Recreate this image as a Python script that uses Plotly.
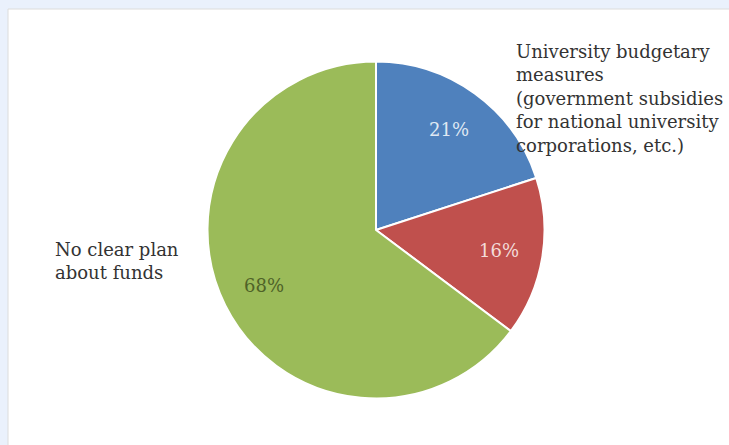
import math
import plotly.graph_objects as go

# Sources of funds for the plan (share of respondents, %)
categories = [
    "University budgetary measures (government subsidies for national university corporations, etc.)",
    "Other",
    "No clear plan about funds",
]
values = [21, 16, 68]
slice_colors = ["#4f81bd", "#c0504d", "#9bbb59"]
pct_colors = ["#dfe8f3", "#f3dcda", "#4f6228"]

SERIF = "DejaVu Serif"
W, H = 729, 445

# Pie geometry in pixels (centre and radius)
CX, CY, R = 376, 230, 168.5
LABEL_RADIUS = 0.74  # fraction of radius where the % labels sit

fig = go.Figure(
    go.Pie(
        labels=categories,
        values=values,
        sort=False,
        direction="clockwise",
        rotation=0,
        marker=dict(colors=slice_colors, line=dict(color="white", width=2)),
        textinfo="none",
        hoverinfo="label+value",
        showlegend=False,
        domain=dict(x=[(CX - R) / W, (CX + R) / W],
                    y=[(H - CY - R) / H, (H - CY + R) / H]),
    )
)

# Percentage labels placed on each slice's bisector
total = sum(values)
cum = 0
for v, col in zip(values, pct_colors):
    mid = (cum + v / 2) / total * 2 * math.pi
    cum += v
    px = CX + LABEL_RADIUS * R * math.sin(mid)
    py = CY - LABEL_RADIUS * R * math.cos(mid)
    fig.add_annotation(
        x=px / W, y=1 - py / H, xref="paper", yref="paper",
        xanchor="center", yanchor="middle", showarrow=False,
        text=f"{v}%", font=dict(family=SERIF, size=18, color=col),
    )

# White chart panel on the pale blue page
fig.add_shape(
    type="rect", xref="paper", yref="paper",
    x0=8 / W, x1=1.02, y0=-0.02, y1=1 - 9 / H,
    fillcolor="white", line=dict(color="#dcdcdc", width=1), layer="below",
)

fig.add_annotation(
    x=514 / W, y=1 - 38.5 / H, xref="paper", yref="paper",
    xanchor="left", yanchor="top", align="left", showarrow=False,
    text="University budgetary<br>measures<br>(government subsidies<br>for national university<br>corporations, etc.)",
    font=dict(family=SERIF, size=18, color="#333333"),
)
fig.add_annotation(
    x=53 / W, y=1 - 236.5 / H, xref="paper", yref="paper",
    xanchor="left", yanchor="top", align="left", showarrow=False,
    text="No clear plan<br>about funds",
    font=dict(family=SERIF, size=18, color="#333333"),
)

fig.update_layout(
    width=W, height=H,
    margin=dict(l=0, r=0, t=0, b=0),
    paper_bgcolor="#eaf1fc",
    plot_bgcolor="white",
)

fig.write_html("out.html")
